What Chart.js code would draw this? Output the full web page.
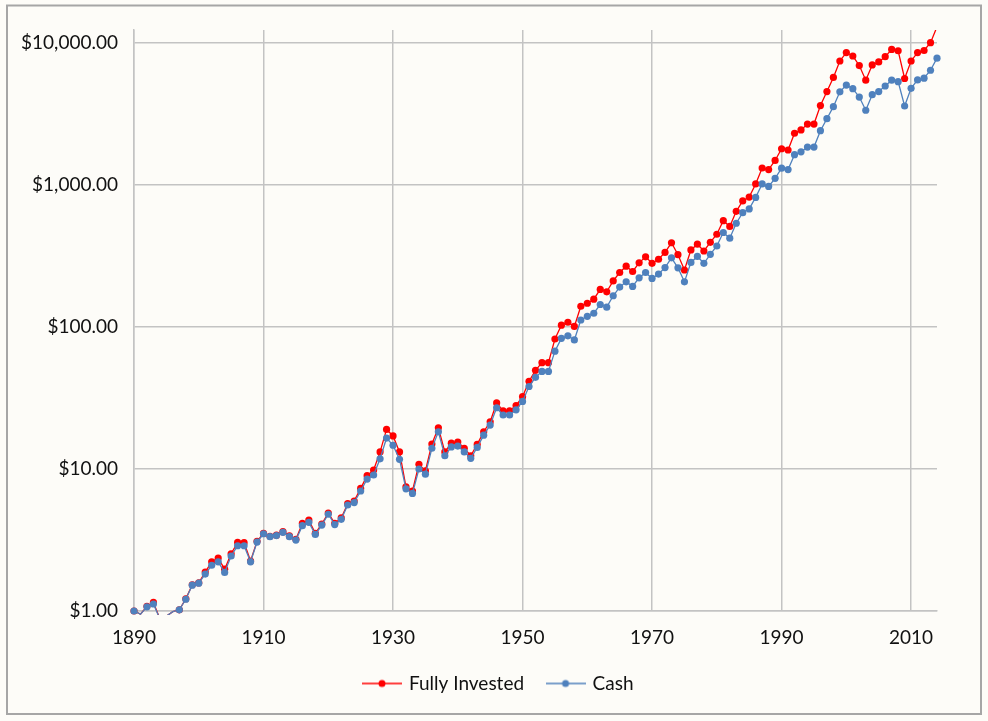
<!DOCTYPE html>
<html>
<head>
<meta charset="utf-8">
<title>Fully Invested vs Cash</title>
<script src="https://cdn.jsdelivr.net/npm/chart.js@4.4.0/dist/chart.umd.min.js"></script>
<style>
  html, body { margin: 0; padding: 0; background: #fdfcf8; }
  canvas { display: block; }
</style>
</head>
<body>
<canvas id="growth-chart" width="988" height="721"></canvas>
<script>
// growth of $1 invested in 1890, one value per year (1890 - 2014)
const firstYear = 1890;

const fullyInvested = [
  1.00, 0.95, 1.08, 1.15, 0.88, 0.92, 0.99, 1.02, 1.22, 1.53,
  1.58, 1.88, 2.22, 2.36, 1.97, 2.53, 3.04, 3.03, 2.25, 3.10,
  3.52, 3.36, 3.42, 3.62, 3.38, 3.20, 4.14, 4.37, 3.52, 4.10,
  4.90, 4.15, 4.52, 5.70, 5.95, 7.30, 8.97, 9.84, 13.2, 19.0,
  17.1, 13.2, 7.50, 7.00, 10.8, 9.70, 15.0, 19.5, 13.2, 15.2,
  15.5, 14.0, 12.4, 14.9, 18.3, 21.5, 29.2, 25.7, 25.7, 28.0,
  32.3, 41.5, 49.5, 56.1, 56.1, 82.3, 103, 108, 101, 140,
  147, 157, 184, 177, 211, 242, 268, 246, 283, 312,
  281, 300, 335, 392, 323, 252, 349, 383, 343, 395,
  450, 561, 511, 653, 772, 822, 1017, 1318, 1284, 1489,
  1800, 1765, 2315, 2443, 2688, 2688, 3625, 4552, 5721, 7473,
  8571, 8101, 6936, 5476, 7010, 7362, 8010, 9012, 8819, 5627,
  7473, 8571, 8860, 10062, 13000
];

const cash = [
  1.00, 0.95, 1.07, 1.12, 0.88, 0.92, 0.99, 1.02, 1.21, 1.52,
  1.57, 1.82, 2.10, 2.22, 1.87, 2.44, 2.88, 2.88, 2.22, 3.06,
  3.50, 3.34, 3.40, 3.58, 3.34, 3.16, 3.99, 4.21, 3.46, 4.03,
  4.80, 4.06, 4.42, 5.58, 5.80, 7.00, 8.50, 9.07, 11.8, 16.5,
  14.7, 11.7, 7.25, 6.73, 10.0, 9.20, 14.0, 18.3, 12.4, 14.3,
  14.5, 13.2, 11.9, 14.2, 17.3, 20.4, 27.0, 24.0, 24.0, 26.1,
  29.9, 38.1, 44.2, 48.7, 48.7, 67.6, 83.2, 86.7, 81.1, 112,
  119, 125, 144, 138, 166, 191, 208, 193, 222, 242,
  220, 236, 262, 307, 261, 208, 285, 314, 281, 325,
  372, 463, 422, 538, 639, 679, 818, 1017, 977, 1115,
  1315, 1284, 1636, 1713, 1851, 1851, 2413, 2930, 3563, 4530,
  5057, 4768, 4165, 3362, 4330, 4552, 4982, 5476, 5345, 3600,
  4797, 5500, 5650, 6430, 7824
];

const xTickYears = [1890, 1910, 1930, 1950, 1970, 1990, 2010];
const yTickValues = [1, 10, 100, 1000, 10000];

const yMin = 1;
const yMax = 12350;
const xMin = 1890;
const xMax = 2014;

const years = cash.map((_, i) => firstYear + i);

const red = '#ff0000';
const blue = '#4f81bd';
const gridColor = '#c3c3c3';
const textColor = '#111111';
const font = { family: 'Lato, "Open Sans", sans-serif', size: 19 };

// little "line with a dot" picture used as legend marker
const legendSwatch = (color) => {
  const c = document.createElement('canvas');
  c.width = 40;
  c.height = 10;
  const g = c.getContext('2d');
  g.strokeStyle = color;
  g.lineWidth = 1.5;
  g.beginPath();
  g.moveTo(0, 5);
  g.lineTo(40, 5);
  g.stroke();
  g.fillStyle = color;
  g.beginPath();
  g.arc(20, 5, 3.5, 0, Math.PI * 2);
  g.fill();
  return c;
};
const swatches = [legendSwatch(red), legendSwatch(blue)];

// hide markers that fall outside the value axis (Excel does not draw them)
const markerRadius = (ctx) => {
  const p = ctx.raw;
  if (!p) return 3.6;
  return (p.y < yMin || p.y > yMax) ? 0 : 3.6;
};

const background = {
  id: 'background',
  beforeDraw(chart) {
    const ctx = chart.ctx;
    ctx.save();
    ctx.fillStyle = '#fdfcf8';
    ctx.fillRect(0, 0, chart.width, chart.height);
    ctx.strokeStyle = '#a6a6a6';
    ctx.lineWidth = 2;
    ctx.strokeRect(7, 5.5, 974, 708.5);
    ctx.restore();
  }
};

// Excel centres the legend under the whole frame, not under the plot
const centreLegend = {
  id: 'centreLegend',
  afterLayout(chart) {
    const lg = chart.legend;
    if (lg) lg.left = chart.width - lg.right + 10;
  }
};

new Chart(document.getElementById('growth-chart'), {
  type: 'line',
  data: {
    datasets: [
      {
        label: 'Fully Invested',
        data: years.map((yr, i) => ({ x: yr, y: fullyInvested[i] })),
        borderColor: red,
        backgroundColor: red,
        borderWidth: 1.3,
        pointRadius: markerRadius,
        pointBorderWidth: 0,
        pointHoverRadius: 0,
        order: 1,
        clip: { left: 5, right: 5, top: 0, bottom: 4 }
      },
      {
        label: 'Cash',
        data: years.map((yr, i) => ({ x: yr, y: cash[i] })),
        borderColor: blue,
        backgroundColor: blue,
        borderWidth: 1.3,
        pointRadius: markerRadius,
        pointBorderWidth: 0,
        pointHoverRadius: 0,
        order: 0,
        clip: { left: 5, right: 5, top: 0, bottom: 4 }
      }
    ]
  },
  options: {
    responsive: false,
    animation: false,
    layout: { padding: { left: 0, top: 30, right: 51, bottom: 18 } },
    scales: {
      x: {
        type: 'linear',
        min: xMin,
        max: xMax,
        afterBuildTicks: (s) => { s.ticks = xTickYears.map((v) => ({ value: v })); },
        afterFit: (s) => { s.height = 39; },
        ticks: {
          callback: (v) => String(v),
          font: font,
          color: textColor,
          padding: 15,
          maxRotation: 0
        },
        grid: { color: gridColor, lineWidth: 1.5, drawTicks: false },
        border: { color: gridColor, width: 1.5 }
      },
      y: {
        type: 'logarithmic',
        min: yMin,
        max: yMax,
        afterBuildTicks: (s) => { s.ticks = yTickValues.map((v) => ({ value: v })); },
        afterFit: (s) => { s.width = 134; },
        ticks: {
          callback: (v) => '$' + Number(v).toLocaleString('en-US', { minimumFractionDigits: 2, maximumFractionDigits: 2 }),
          font: font,
          color: textColor,
          padding: 16
        },
        grid: { color: gridColor, lineWidth: 1.5, drawTicks: false },
        border: { color: gridColor, width: 1.5 }
      }
    },
    plugins: {
      legend: {
        position: 'bottom',
        labels: {
          usePointStyle: true,
          pointStyleWidth: 35,
          padding: 24,
          font: font,
          color: textColor,
          generateLabels: (chart) =>
            Chart.defaults.plugins.legend.labels.generateLabels(chart).map((item) => {
              item.pointStyle = swatches[item.datasetIndex];
              return item;
            }),
          sort: (a, b) => a.datasetIndex - b.datasetIndex
        }
      },
      tooltip: { enabled: false }
    }
  },
  plugins: [background, centreLegend]
});
</script>
</body>
</html>
